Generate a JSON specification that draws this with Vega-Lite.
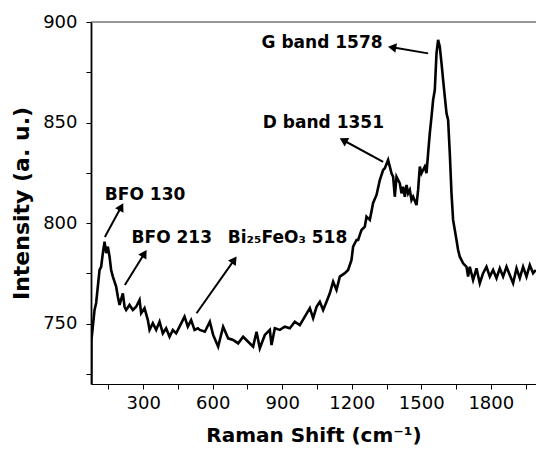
{
  "$schema": "https://vega.github.io/schema/vega-lite/v6.json",
  "width": 445,
  "height": 362,
  "autosize": {"type": "none"},
  "padding": {"left": 91, "top": 22, "right": 0, "bottom": 67},
  "background": "white",
  "config": {
    "view": {"stroke": null},
    "font": "DejaVu Sans",
    "axis": {
      "grid": false,
      "domainColor": "#000",
      "domainWidth": 1.2,
      "tickColor": "#000",
      "tickSize": 5,
      "tickWidth": 1,
      "labelFont": "DejaVu Sans",
      "labelFontSize": 18,
      "labelColor": "#000",
      "titleFont": "DejaVu Sans",
      "titleFontWeight": "bold",
      "titleColor": "#000"
    }
  },
  "datasets": {
    "spectrum": [
      {"shift": 76, "intensity": 716},
      {"shift": 77, "intensity": 741.9},
      {"shift": 90.3, "intensity": 756.8},
      {"shift": 97.2, "intensity": 760.3},
      {"shift": 111.9, "intensity": 776.7},
      {"shift": 118.8, "intensity": 778.3},
      {"shift": 126.1, "intensity": 785.1},
      {"shift": 133.5, "intensity": 790.8},
      {"shift": 140.4, "intensity": 785.1},
      {"shift": 147.7, "intensity": 788.3},
      {"shift": 155.0, "intensity": 783.3},
      {"shift": 161.9, "intensity": 776.7},
      {"shift": 169.3, "intensity": 773.4},
      {"shift": 183.5, "intensity": 768.4},
      {"shift": 190.9, "intensity": 763.4},
      {"shift": 198.2, "intensity": 759.3},
      {"shift": 212.4, "intensity": 765.1},
      {"shift": 219.8, "intensity": 758.4},
      {"shift": 226.7, "intensity": 756.8},
      {"shift": 241.3, "intensity": 759.3},
      {"shift": 255.6, "intensity": 756.8},
      {"shift": 269.8, "intensity": 758.4},
      {"shift": 284.5, "intensity": 761.8},
      {"shift": 291.4, "intensity": 755.2},
      {"shift": 306.0, "intensity": 757.7},
      {"shift": 320.3, "intensity": 751.8},
      {"shift": 327.6, "intensity": 746.9},
      {"shift": 341.8, "intensity": 750.2},
      {"shift": 356.1, "intensity": 746.9},
      {"shift": 370.8, "intensity": 751.0},
      {"shift": 385.0, "intensity": 745.2},
      {"shift": 399.2, "intensity": 747.7},
      {"shift": 413.9, "intensity": 743.5},
      {"shift": 428.1, "intensity": 746.9},
      {"shift": 442.4, "intensity": 745.2},
      {"shift": 457.0, "intensity": 748.5},
      {"shift": 478.6, "intensity": 753.5},
      {"shift": 492.8, "intensity": 748.5},
      {"shift": 507.1, "intensity": 751.8},
      {"shift": 521.7, "intensity": 746.9},
      {"shift": 536.0, "intensity": 747.7},
      {"shift": 544.6, "intensity": 746.9},
      {"shift": 566.2, "intensity": 746.0},
      {"shift": 587.7, "intensity": 751.0},
      {"shift": 602.0, "intensity": 744.4},
      {"shift": 623.6, "intensity": 738.6},
      {"shift": 645.1, "intensity": 748.5},
      {"shift": 666.7, "intensity": 742.7},
      {"shift": 688.3, "intensity": 741.9},
      {"shift": 709.8, "intensity": 740.2},
      {"shift": 731.4, "intensity": 743.5},
      {"shift": 753.0, "intensity": 741.0},
      {"shift": 774.5, "intensity": 738.6},
      {"shift": 789.2, "intensity": 746.0},
      {"shift": 803.4, "intensity": 737.8},
      {"shift": 825.0, "intensity": 744.4},
      {"shift": 846.6, "intensity": 746.9},
      {"shift": 853.9, "intensity": 739.4},
      {"shift": 868.2, "intensity": 747.7},
      {"shift": 889.7, "intensity": 746.9},
      {"shift": 911.3, "intensity": 748.5},
      {"shift": 932.9, "intensity": 747.7},
      {"shift": 954.4, "intensity": 751.0},
      {"shift": 976.0, "intensity": 749.3},
      {"shift": 997.6, "intensity": 753.5},
      {"shift": 1019.2, "intensity": 757.7},
      {"shift": 1033.4, "intensity": 752.7},
      {"shift": 1048.1, "intensity": 758.4},
      {"shift": 1062.3, "intensity": 760.9},
      {"shift": 1076.5, "intensity": 756.8},
      {"shift": 1091.2, "intensity": 760.9},
      {"shift": 1105.4, "intensity": 765.1},
      {"shift": 1119.7, "intensity": 770.9},
      {"shift": 1134.3, "intensity": 766.8},
      {"shift": 1148.6, "intensity": 773.4},
      {"shift": 1170.2, "intensity": 775.1},
      {"shift": 1184.4, "intensity": 776.7},
      {"shift": 1199.0, "intensity": 781.7},
      {"shift": 1205.9, "intensity": 788.3},
      {"shift": 1220.6, "intensity": 791.6},
      {"shift": 1227.5, "intensity": 791.6},
      {"shift": 1242.2, "intensity": 796.6},
      {"shift": 1256.4, "intensity": 798.2},
      {"shift": 1263.7, "intensity": 803.2},
      {"shift": 1278.0, "intensity": 801.6},
      {"shift": 1292.2, "intensity": 810.0},
      {"shift": 1306.9, "intensity": 814.0},
      {"shift": 1321.1, "intensity": 821.4},
      {"shift": 1335.4, "intensity": 826.4},
      {"shift": 1342.7, "intensity": 827.3},
      {"shift": 1356.9, "intensity": 831.4},
      {"shift": 1364.3, "intensity": 828.1},
      {"shift": 1371.6, "intensity": 824.8},
      {"shift": 1378.5, "intensity": 823.1},
      {"shift": 1385.8, "intensity": 813.1},
      {"shift": 1393.2, "intensity": 823.1},
      {"shift": 1407.4, "intensity": 819.8},
      {"shift": 1414.7, "intensity": 814.8},
      {"shift": 1421.6, "intensity": 818.1},
      {"shift": 1429.0, "intensity": 813.1},
      {"shift": 1436.3, "intensity": 819.0},
      {"shift": 1443.2, "intensity": 814.8},
      {"shift": 1450.5, "intensity": 816.5},
      {"shift": 1457.9, "intensity": 811.5},
      {"shift": 1464.8, "intensity": 813.1},
      {"shift": 1479.4, "intensity": 809.0},
      {"shift": 1486.4, "intensity": 816.5},
      {"shift": 1493.7, "intensity": 828.1},
      {"shift": 1501.0, "intensity": 824.8},
      {"shift": 1507.9, "intensity": 826.4},
      {"shift": 1515.2, "intensity": 828.1},
      {"shift": 1522.6, "intensity": 824.8},
      {"shift": 1529.5, "intensity": 834.7},
      {"shift": 1536.8, "intensity": 844.7},
      {"shift": 1544.2, "intensity": 852.9},
      {"shift": 1551.1, "intensity": 861.2},
      {"shift": 1558.4, "intensity": 866.2},
      {"shift": 1565.7, "intensity": 884.4},
      {"shift": 1572.6, "intensity": 891.1},
      {"shift": 1579.9, "intensity": 887.7},
      {"shift": 1587.3, "intensity": 879.5},
      {"shift": 1594.2, "intensity": 871.2},
      {"shift": 1601.5, "intensity": 862.9},
      {"shift": 1608.9, "intensity": 854.6},
      {"shift": 1615.8, "intensity": 851.3},
      {"shift": 1623.1, "intensity": 834.7},
      {"shift": 1630.4, "intensity": 814.8},
      {"shift": 1637.3, "intensity": 801.6},
      {"shift": 1644.7, "intensity": 796.6},
      {"shift": 1652.0, "intensity": 791.6},
      {"shift": 1658.9, "intensity": 786.6},
      {"shift": 1666.2, "intensity": 783.3},
      {"shift": 1680.5, "intensity": 780.0},
      {"shift": 1695.1, "intensity": 778.3},
      {"shift": 1702.0, "intensity": 773.4},
      {"shift": 1709.3, "intensity": 778.3},
      {"shift": 1723.6, "intensity": 771.7},
      {"shift": 1738.3, "intensity": 777.5},
      {"shift": 1752.5, "intensity": 770.1},
      {"shift": 1766.8, "intensity": 775.1},
      {"shift": 1781.4, "intensity": 778.3},
      {"shift": 1795.7, "intensity": 773.4},
      {"shift": 1809.9, "intensity": 776.7},
      {"shift": 1824.6, "intensity": 772.6},
      {"shift": 1838.8, "intensity": 777.5},
      {"shift": 1853.0, "intensity": 773.4},
      {"shift": 1867.7, "intensity": 778.3},
      {"shift": 1881.9, "intensity": 774.2},
      {"shift": 1896.2, "intensity": 770.1},
      {"shift": 1910.9, "intensity": 777.5},
      {"shift": 1925.1, "intensity": 772.6},
      {"shift": 1939.3, "intensity": 778.3},
      {"shift": 1954.0, "intensity": 773.4},
      {"shift": 1968.2, "intensity": 779.2},
      {"shift": 1982.5, "intensity": 775.1},
      {"shift": 1994.1, "intensity": 776.7}
    ],
    "arrows": [
      {"label": "BFO 130", "tx": 134.8, "ty": 793.1, "hx": 205.5, "hy": 808.1},
      {"label": "BFO 213", "tx": 221.1, "ty": 769.2, "hx": 305.6, "hy": 784.9},
      {"label": "Bi518", "tx": 530.4, "ty": 755.2, "hx": 693.0, "hy": 781.7},
      {"label": "D band", "tx": 1335.4, "ty": 830.5, "hx": 1163.7, "hy": 841.2},
      {"label": "G band", "tx": 1529.5, "ty": 884.4, "hx": 1374.2, "hy": 887.4}
    ],
    "labels": [
      {"text": "BFO 130", "x": 134.8, "y": 811.5},
      {"text": "BFO 213", "x": 250, "y": 790.1},
      {"text": "Bi₂₅FeO₃ 518", "x": 665.4, "y": 790.1},
      {"text": "G band 1578", "x": 810.8, "y": 886.9},
      {"text": "D band 1351", "x": 816.4, "y": 847.1}
    ],
    "frame": [{"level": 900}]
  },
  "layer": [
    {
      "data": {"name": "spectrum"},
      "mark": {"type": "line", "color": "#000", "strokeWidth": 2.6, "clip": true},
      "encoding": {
        "x": {
          "field": "shift", "type": "quantitative",
          "title": "Raman Shift (cm⁻¹)",
          "scale": {"domain": [75, 1995], "nice": false, "zero": false},
          "axis": {
            "titleFontSize": 20,
            "titlePadding": 13,
            "tickCount": 30,
            "values": [150, 300, 450, 600, 750, 900, 1050, 1200, 1350, 1500, 1650, 1800, 1950],
            "labelExpr": "(round(datum.value) % 300 == 0) ? format(datum.value, 'd') : ''",
            "labelPadding": 5,
            "labelFlush": false,
            "labelOverlap": false,
            "labelBound": false
          }
        },
        "y": {
          "field": "intensity", "type": "quantitative",
          "title": "Intensity (a. u.)",
          "scale": {"domain": [720, 900], "nice": false, "zero": false},
          "axis": {
            "titleFontSize": 22,
            "titlePadding": 9,
            "tickCount": 30,
            "domainWidth": 1.8,
            "values": [725, 750, 775, 800, 825, 850, 875, 900],
            "labelExpr": "(round(datum.value) % 50 == 0) ? format(datum.value, 'd') : ''",
            "labelPadding": 9,
            "labelFlush": false,
            "labelOverlap": false
          }
        }
      }
    },
    {
      "data": {"name": "frame"},
      "mark": {"type": "rule", "color": "#333", "strokeWidth": 1},
      "encoding": {"y": {"field": "level", "type": "quantitative"}}
    },
    {
      "data": {"name": "arrows"},
      "mark": {"type": "rule", "color": "#000", "strokeWidth": 2},
      "encoding": {
        "x": {"field": "tx", "type": "quantitative"},
        "y": {"field": "ty", "type": "quantitative"},
        "x2": {"field": "hx"},
        "y2": {"field": "hy"}
      }
    },
    {
      "data": {"name": "arrows"},
      "transform": [{"filter": "datum.label === 'BFO 130'"}],
      "mark": {"type": "point", "shape": "triangle-up", "filled": true, "color": "#000", "opacity": 1, "size": 90, "angle": 28.5},
      "encoding": {"x": {"field": "hx", "type": "quantitative"}, "y": {"field": "hy", "type": "quantitative"}}
    },
    {
      "data": {"name": "arrows"},
      "transform": [{"filter": "datum.label === 'BFO 213'"}],
      "mark": {"type": "point", "shape": "triangle-up", "filled": true, "color": "#000", "opacity": 1, "size": 90, "angle": 31.8},
      "encoding": {"x": {"field": "hx", "type": "quantitative"}, "y": {"field": "hy", "type": "quantitative"}}
    },
    {
      "data": {"name": "arrows"},
      "transform": [{"filter": "datum.label === 'Bi518'"}],
      "mark": {"type": "point", "shape": "triangle-up", "filled": true, "color": "#000", "opacity": 1, "size": 90, "angle": 35.3},
      "encoding": {"x": {"field": "hx", "type": "quantitative"}, "y": {"field": "hy", "type": "quantitative"}}
    },
    {
      "data": {"name": "arrows"},
      "transform": [{"filter": "datum.label === 'D band'"}],
      "mark": {"type": "point", "shape": "triangle-up", "filled": true, "color": "#000", "opacity": 1, "size": 90, "angle": -61.6},
      "encoding": {"x": {"field": "hx", "type": "quantitative"}, "y": {"field": "hy", "type": "quantitative"}}
    },
    {
      "data": {"name": "arrows"},
      "transform": [{"filter": "datum.label === 'G band'"}],
      "mark": {"type": "point", "shape": "triangle-up", "filled": true, "color": "#000", "opacity": 1, "size": 90, "angle": -80.6},
      "encoding": {"x": {"field": "hx", "type": "quantitative"}, "y": {"field": "hy", "type": "quantitative"}}
    },
    {
      "data": {"name": "labels"},
      "mark": {"type": "text", "align": "left", "baseline": "alphabetic", "font": "DejaVu Sans", "fontWeight": "bold", "fontSize": 17, "color": "#000"},
      "encoding": {
        "x": {"field": "x", "type": "quantitative"},
        "y": {"field": "y", "type": "quantitative"},
        "text": {"field": "text"}
      }
    }
  ]
}
